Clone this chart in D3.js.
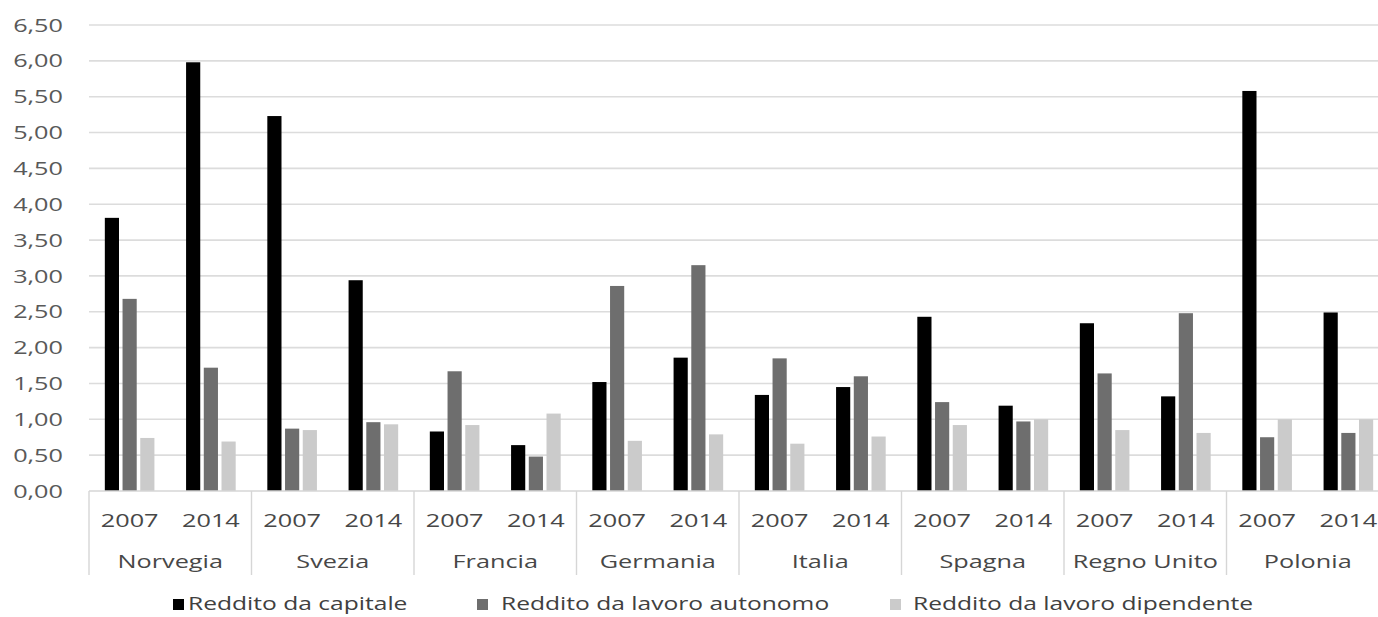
<!DOCTYPE html>
<html>
<head>
<meta charset="utf-8">
<script src="https://cdn.jsdelivr.net/npm/d3@7"></script>
<style>
  body { margin: 0; background: #fff; }
  text { font-family: "Open Sans", "Noto Sans", sans-serif; }
</style>
</head>
<body>
<div id="chart"></div>
<script>
const countries = ['Norvegia', 'Svezia', 'Francia', 'Germania', 'Italia', 'Spagna', 'Regno Unito', 'Polonia'];
const years = ['2007', '2014'];
const seriesNames = ['Reddito da capitale', 'Reddito da lavoro autonomo', 'Reddito da lavoro dipendente'];

// one value per country/year, in order Norvegia 2007, Norvegia 2014, Svezia 2007 ...
const capitale   = [3.81, 5.98, 5.23, 2.94, 0.83, 0.64, 1.52, 1.86, 1.34, 1.45, 2.43, 1.19, 2.34, 1.32, 5.58, 2.49];
const autonomo   = [2.68, 1.72, 0.87, 0.96, 1.67, 0.48, 2.86, 3.15, 1.85, 1.60, 1.24, 0.97, 1.64, 2.48, 0.75, 0.81];
const dipendente = [0.74, 0.69, 0.85, 0.93, 0.92, 1.08, 0.70, 0.79, 0.66, 0.76, 0.92, 1.00, 0.85, 0.81, 1.00, 1.00];

const yTicks = [0, 0.5, 1, 1.5, 2, 2.5, 3, 3.5, 4, 4.5, 5, 5.5, 6, 6.5];

const colors = ['#000000', '#6e6e6e', '#cbcbcb'];
const stretch = 1.33; // the source picture is stretched sideways

const W = 1378, H = 617;
const margin = { top: 25, left: 89, bottom: 126 };
const plotRight = 1389;

const svg = d3.select('#chart').append('svg')
  .attr('width', W)
  .attr('height', H);

const x0 = d3.scaleBand().domain(countries).range([margin.left, plotRight]);
const x1 = d3.scaleBand().domain(years).range([0, x0.bandwidth()]);
const x2 = d3.scaleBand().domain(seriesNames).range([-24.8, 24.8]).paddingInner(0.2);
const y = d3.scaleLinear().domain([0, 6.5]).range([H - margin.bottom, margin.top]);

const fmt = d3.formatLocale({ decimal: ',', thousands: '.', grouping: [3], currency: ['', '€'] }).format('.2f');

// gridlines
svg.append('g')
  .selectAll('line')
  .data(yTicks.filter(d => d > 0))
  .enter()
  .append('line')
  .attr('x1', margin.left)
  .attr('x2', W)
  .attr('y1', d => y(d))
  .attr('y2', d => y(d))
  .attr('stroke', '#dcdcdc')
  .attr('stroke-width', 1.6);

// y axis labels
const yAxis = svg.append('g')
  .attr('transform', `translate(${margin.left},0)`)
  .call(d3.axisLeft(y).tickValues(yTicks).tickFormat(fmt).tickSize(0));
yAxis.select('.domain').remove();
yAxis.selectAll('text')
  .attr('x', -26 / stretch)
  .attr('transform', `scale(${stretch},1)`)
  .attr('fill', '#595959')
  .style('font-size', '19px');

// bars
const rows = [];
countries.forEach((c, i) => {
  years.forEach((yr, j) => {
    const k = i * 2 + j;
    [capitale, autonomo, dipendente].forEach((arr, s) => {
      rows.push({ country: c, year: yr, series: seriesNames[s], value: arr[k], s });
    });
  });
});

svg.append('g')
  .selectAll('rect')
  .data(rows)
  .enter()
  .append('rect')
  .attr('x', d => x0(d.country) + x1(d.year) + x1.bandwidth() / 2 + x2(d.series))
  .attr('y', d => y(d.value))
  .attr('width', x2.bandwidth())
  .attr('height', d => y(0) - y(d.value))
  .attr('fill', d => colors[d.s]);

// baseline
svg.append('line')
  .attr('x1', margin.left)
  .attr('x2', W)
  .attr('y1', y(0))
  .attr('y2', y(0))
  .attr('stroke', '#d6d6d6')
  .attr('stroke-width', 1.6);

// category separators
const seps = countries.map(c => x0(c)).concat([plotRight]);
svg.append('g')
  .selectAll('line')
  .data(seps)
  .enter()
  .append('line')
  .attr('x1', d => d)
  .attr('x2', d => d)
  .attr('y1', y(0))
  .attr('y2', y(0) + 84)
  .attr('stroke', '#d6d6d6')
  .attr('stroke-width', 1.4);

function stretchedText(g, cx, cy, txt, size, color) {
  g.append('text')
    .attr('transform', `translate(${cx},${cy}) scale(${stretch},1)`)
    .attr('text-anchor', 'middle')
    .attr('dy', '0.35em')
    .attr('fill', color)
    .style('font-size', size + 'px')
    .text(txt);
}

// year labels and country labels
const labels = svg.append('g');
countries.forEach(c => {
  years.forEach(yr => {
    stretchedText(labels, x0(c) + x1(yr) + x1.bandwidth() / 2, y(0) + 29, yr, 19, '#474747');
  });
  stretchedText(labels, x0(c) + x0.bandwidth() / 2, y(0) + 70, c, 19, '#474747');
});

// legend
const legendX = [173, 477, 890];
const legendGap = [15, 24, 23];
const legend = svg.append('g').attr('transform', `translate(0,${H - 13})`);
seriesNames.forEach((name, i) => {
  legend.append('rect')
    .attr('x', legendX[i])
    .attr('y', -5)
    .attr('width', 11)
    .attr('height', 11)
    .attr('fill', colors[i]);
  legend.append('text')
    .attr('transform', `translate(${legendX[i] + legendGap[i]},0) scale(${stretch},1)`)
    .attr('dy', '0.35em')
    .attr('fill', '#404040')
    .style('font-size', '18.5px')
    .text(name);
});
</script>
</body>
</html>
